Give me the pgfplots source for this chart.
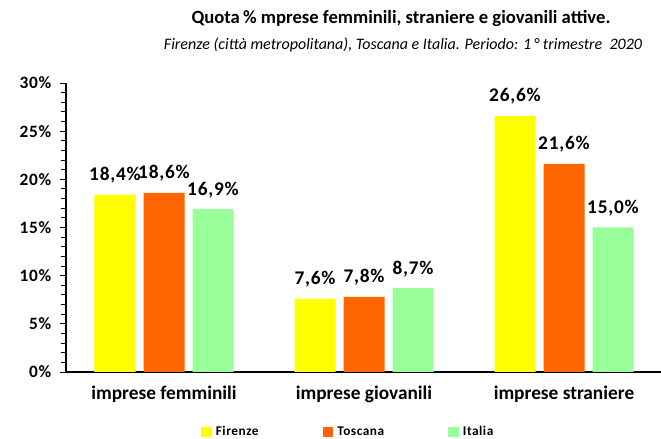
\documentclass[border=0pt]{standalone}
\usepackage{pgfplots}
\pgfplotsset{compat=1.18}
\usepackage{fontspec}
\setmainfont{Carlito}
\newfontfamily\wide[LetterSpace=4]{Carlito}
\definecolor{cFir}{RGB}{255,255,0}
\definecolor{cTos}{RGB}{255,102,0}
\definecolor{cIta}{RGB}{153,255,153}
\begin{document}
\begin{tikzpicture}[x=0.75pt,y=0.75pt]
\useasboundingbox (0,0) rectangle (661,439);
\node[font=\bfseries\fontsize{14}{16}\selectfont] at (401,420) {Quota\,\% mprese femminili, straniere e giovanili attive.};
\node[font=\itshape\fontsize{12}{14}\selectfont] at (403,394) {Firenze (città metropolitana), Toscana e Italia. Periodo: 1\,° trimestre\ \ 2020};
\begin{axis}[
  at={(123pt,50.25pt)}, anchor=origin,
  scale only axis, width=446.25pt, height=216.75pt,
  ybar, bar width=30.75pt,
  xmin=-0.49, xmax=2.485, ymin=0, ymax=30,
  axis lines=left, axis line style={-, line width=0.9pt},
  ytick={0,5,...,30}, minor ytick={0,1,...,30},
  yticklabel={\pgfmathprintnumber{\tick}\%},
  yticklabel style={font=\wide\bfseries\fontsize{13}{15}\selectfont, xshift=-3pt},
  tick style={black, line width=0.7pt},
  major tick length=4.5pt, minor tick length=4pt,
  ytick align=outside,
  xtick={0,1,2}, xticklabels={imprese femminili, imprese giovanili, imprese straniere},
  xticklabel style={font=\bfseries\fontsize{14.5}{16}\selectfont, yshift=-5pt},
  x tick style={draw=none},
  extra x ticks={0.51,1.51}, extra x tick labels={},
  extra x tick style={tick align=outside, major tick length=4.5pt, tick style={draw=black, line width=0.7pt}},
  /pgf/number format/assume math mode=true,
  nodes near coords={\pgfmathprintnumber[fixed, fixed zerofill, precision=1, use comma]{\pgfplotspointmeta}\%},
  nodes near coords style={font=\wide\bfseries\fontsize{14.5}{16}\selectfont, black, yshift=5pt},
  legend columns=3,
  legend style={at={(0.22,-0.208)}, anchor=west, draw=none, fill=none,
    font=\wide\bfseries\fontsize{10}{12}\selectfont, column sep=46pt,
    /tikz/every odd column/.append style={column sep=1pt}},
  legend image code/.code={\fill[#1] (0pt,-4pt) rectangle (8pt,4pt);},
  legend cell align=left,
]
\addplot[fill=cFir, draw=none, bar shift=-36.75pt] coordinates {(0,18.4) (1,7.6) (2,26.6)};
\addplot[fill=cTos, draw=none, bar shift=0pt] coordinates {(0,18.6) (1,7.8) (2,21.6)};
\addplot[fill=cIta, draw=none, bar shift=36.75pt] coordinates {(0,16.9) (1,8.7) (2,15.0)};
\legend{Firenze, Toscana, Italia}
\end{axis}
\end{tikzpicture}
\end{document}
